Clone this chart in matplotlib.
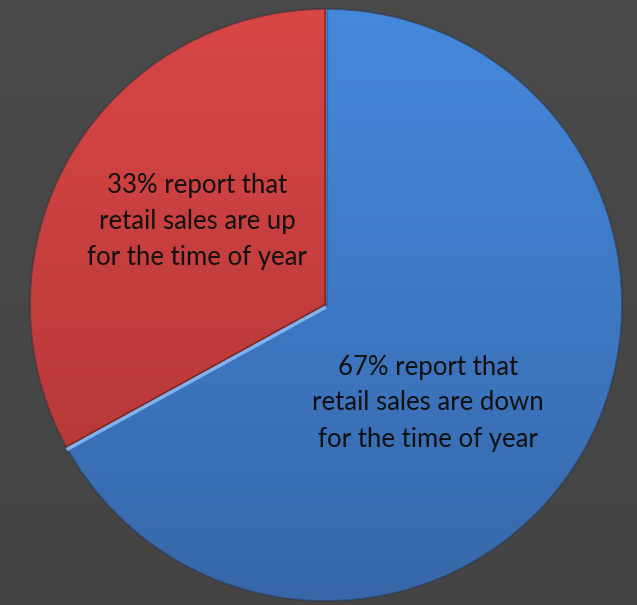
import numpy as np
import matplotlib.pyplot as plt
from matplotlib.colors import LinearSegmentedColormap

# datos del grafico
etiquetas = ["67% report that\nretail sales are down\nfor the time of year",
             "33% report that\nretail sales are up\nfor the time of year"]
valores = [67, 33]
colores_arriba = ["#4589dc", "#d94646"]
colores_abajo = ["#3767aa", "#ad3434"]

W, H = 637, 605
cx, cy, r = 326, 300, 296

fig = plt.figure(figsize=(W / 100, H / 100), dpi=100)
fig.patch.set_facecolor("#474747")
ax = fig.add_axes([0, 0, 1, 1])
ax.set_facecolor("#474747")

# fondo con un degradado suave
fondo = LinearSegmentedColormap.from_list("fondo", ["#4a4a4a", "#444444"])
ax.imshow(np.linspace(0, 1, 256).reshape(-1, 1), extent=[0, W, 0, H], origin="upper",
          cmap=fondo, aspect="auto", zorder=0)

cunas, _ = ax.pie(valores, center=(cx, cy), radius=r, startangle=90, counterclock=False,
                  colors=colores_arriba, wedgeprops=dict(linewidth=0))

grad = np.linspace(0, 1, 256).reshape(-1, 1)
for c, top, bot in zip(cunas, colores_arriba, colores_abajo):
    cm = LinearSegmentedColormap.from_list("g", [top, bot])
    im = ax.imshow(grad, extent=[cx - r, cx + r, cy - r, cy + r], origin="upper",
                   cmap=cm, aspect="auto", zorder=2)
    im.set_clip_path(c)

# borde oscuro alrededor del circulo
t = np.linspace(0, 2 * np.pi, 400)
ax.plot(cx + r * np.cos(t), cy + r * np.sin(t), color="#2a2f3a", lw=1.3, alpha=0.5, zorder=3)

# linea de brillo en el borde entre las dos porciones
ang = np.deg2rad(90 - 360 * valores[0] / sum(valores))
ax.plot([cx, cx + r * np.cos(ang)], [cy - 2, cy + r * np.sin(ang) - 2],
        color="#7fb3ee", lw=2.5, zorder=4, solid_capstyle="butt")
ax.plot([cx, cx + r * np.cos(ang)], [cy + 1, cy + r * np.sin(ang) + 1],
        color="#5a1d1d", lw=1, alpha=0.7, zorder=4)
ax.plot([cx - 1.5, cx - 1.5], [cy, cy + r - 2], color="#6a1e1e", lw=1.2, alpha=0.7, zorder=4)
ax.plot([cx + 1, cx + 1], [cy, cy + r - 2], color="#2a5590", lw=1, alpha=0.6, zorder=4)

# textos
ax.text(428, H - 403, etiquetas[0], ha="center", va="center", fontsize=18.5,
        family="Lato", color="#111111", linespacing=1.55, zorder=5)
ax.text(197, H - 221, etiquetas[1], ha="center", va="center", fontsize=18.5,
        family="Lato", color="#111111", linespacing=1.55, zorder=5)

ax.set_xlim(0, W)
ax.set_ylim(0, H)
ax.set_aspect("auto")
ax.axis("off")

fig.savefig("out.png", dpi=100, facecolor=fig.get_facecolor())
